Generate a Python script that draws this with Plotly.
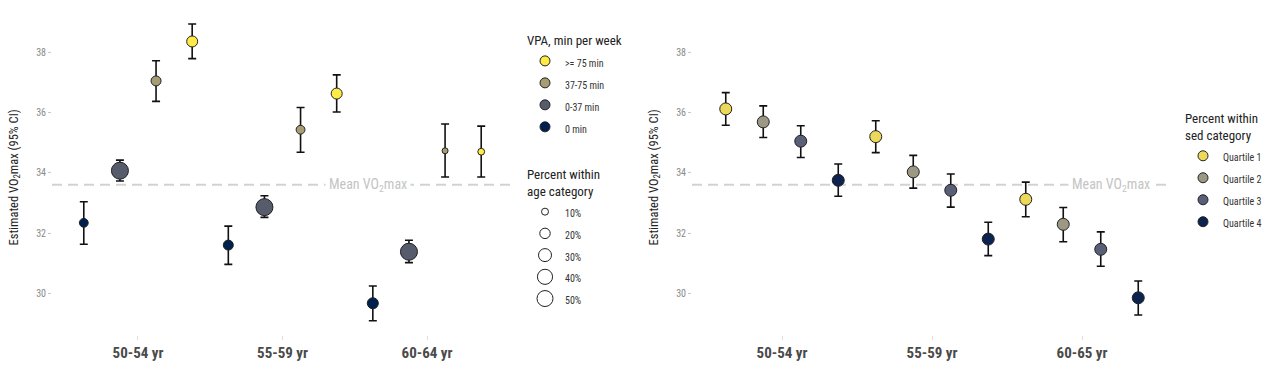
import plotly.graph_objects as go
import math

# ---------------- data ----------------
age_cats_left = ["50-54 yr", "55-59 yr", "60-64 yr"]
age_cats_right = ["50-54 yr", "55-59 yr", "60-65 yr"]

vpa_labels = [">= 75 min", "37-75 min", "0-37 min", "0 min"]
vpa_mean = [
    [38.36, 36.63, 34.70],
    [37.05, 35.43, 34.73],
    [34.07, 32.86, 31.38],
    [32.34, 31.60, 29.67],
]
vpa_low = [
    [37.79, 36.02, 33.86],
    [36.37, 34.68, 33.86],
    [33.73, 32.52, 31.02],
    [31.63, 30.96, 29.09],
]
vpa_high = [
    [38.94, 37.25, 35.55],
    [37.72, 36.17, 35.62],
    [34.42, 33.24, 31.76],
    [33.04, 32.23, 30.24],
]
vpa_pct = [
    [26, 26, 12],
    [22, 18, 10],
    [56, 56, 56],
    [18, 22, 26],
]
size_legend_pct = [10, 20, 30, 40, 50]

sed_labels = ["Quartile 1", "Quartile 2", "Quartile 3", "Quartile 4"]
sed_mean = [
    [36.12, 35.20, 33.12],
    [35.69, 34.03, 32.29],
    [35.05, 33.42, 31.46],
    [33.75, 31.80, 29.85],
]
sed_low = [
    [35.58, 34.67, 32.54],
    [35.17, 33.49, 31.71],
    [34.51, 32.86, 30.90],
    [33.22, 31.25, 29.28],
]
sed_high = [
    [36.66, 35.73, 33.69],
    [36.22, 34.58, 32.85],
    [35.56, 33.96, 32.04],
    [34.29, 32.36, 30.41],
]
mean_vo2max = 33.6
y_ticks = [30, 32, 34, 36, 38]

# ---------------- style ----------------
FONT = "Roboto Condensed, Liberation Sans Narrow, DejaVu Sans Condensed, Roboto, sans-serif"
vpa_colors = ["#FFEA46", "#A69D75", "#575C6D", "#00204D"]
sed_colors = ["#ECD95C", "#9C9884", "#585F76", "#0C2350"]
group_offsets = [-0.375, -0.125, 0.125, 0.375]
left_offsets = list(reversed(group_offsets))  # >=75 is the rightmost


def pct_to_size(p):
    d = math.sqrt(49 + 6 * (p - 10))
    return d - 1


def legend_name(s):
    # smaller visible legend text while keeping row spacing
    return f'<span style="font-size:10px">{s}</span>'


fig = go.Figure()

# left panel traces
for i, lab in enumerate(vpa_labels):
    xs = [j + left_offsets[i] for j in range(len(age_cats_left))]
    fig.add_trace(go.Scatter(
        x=xs, y=vpa_mean[i], mode="markers", name=lab, showlegend=False,
        xaxis="x", yaxis="y",
        marker=dict(color=vpa_colors[i], size=[pct_to_size(p) for p in vpa_pct[i]],
                    line=dict(color="#222222", width=1), opacity=1),
        error_y=dict(type="data", symmetric=False,
                     array=[h - m for h, m in zip(vpa_high[i], vpa_mean[i])],
                     arrayminus=[m - l for m, l in zip(vpa_mean[i], vpa_low[i])],
                     color="#111111", thickness=1.6, width=4),
        hoverinfo="skip",
    ))
    fig.add_trace(go.Scatter(
        x=[None], y=[None], mode="markers", name=legend_name(lab),
        xaxis="x", yaxis="y", legend="legend",
        marker=dict(color=vpa_colors[i], size=10, line=dict(color="#222222", width=1)),
    ))

# size legend (legend-only)
for p in size_legend_pct:
    fig.add_trace(go.Scatter(
        x=[None], y=[None], mode="markers", name=legend_name(f"{p}%"),
        xaxis="x", yaxis="y", legend="legend2",
        marker=dict(color="white", size=pct_to_size(p) + 1, line=dict(color="#222222", width=1)),
    ))

# right panel traces
for i, lab in enumerate(sed_labels):
    xs = [j + group_offsets[i] for j in range(len(age_cats_right))]
    fig.add_trace(go.Scatter(
        x=xs, y=sed_mean[i], mode="markers", name=lab, showlegend=False,
        xaxis="x2", yaxis="y2",
        marker=dict(color=sed_colors[i], size=12, line=dict(color="#222222", width=1)),
        error_y=dict(type="data", symmetric=False,
                     array=[h - m for h, m in zip(sed_high[i], sed_mean[i])],
                     arrayminus=[m - l for m, l in zip(sed_mean[i], sed_low[i])],
                     color="#111111", thickness=1.6, width=4),
        hoverinfo="skip",
    ))
    fig.add_trace(go.Scatter(
        x=[None], y=[None], mode="markers", name=legend_name(lab),
        xaxis="x2", yaxis="y2", legend="legend3",
        marker=dict(color=sed_colors[i], size=10, line=dict(color="#222222", width=1)),
    ))

W, H = 1280, 366
yr = [28.616, 39.072]
ydom = [1 - 335 / H, 1 - 20 / H]

common_y = dict(range=yr, domain=ydom, tickvals=y_ticks, showgrid=False, zeroline=False,
                showline=False, ticks="outside", ticklen=3, tickcolor="#c8c8c8", tickwidth=1,
                tickfont=dict(family=FONT, size=10, color="#8a8a8a"))
common_x = dict(tickvals=[0, 1, 2], showgrid=False, zeroline=False, showline=False,
                ticks="outside", ticklen=4, tickcolor="#dddddd", tickwidth=1,
                tickfont=dict(family=FONT, size=15, color="#4a4a4a", weight="bold"))

fig.update_layout(
    width=W, height=H,
    margin=dict(l=0, r=0, t=0, b=0),
    paper_bgcolor="white", plot_bgcolor="white",
    font=dict(family=FONT, color="#222222"),
    xaxis=dict(domain=[52 / W, 513 / W], range=[-0.595, 2.595], ticktext=age_cats_left,
               anchor="y", **common_x),
    yaxis=dict(anchor="x", **common_y),
    xaxis2=dict(domain=[692 / W, 1172 / W], range=[-0.6, 2.6], ticktext=age_cats_right,
                anchor="y2", **common_x),
    yaxis2=dict(anchor="x2", **common_y),
    legend=dict(x=525 / W, y=1 - 28 / H, xanchor="left", yanchor="top",
                title=dict(text="VPA, min per week", font=dict(family=FONT, size=13, color="#222222")),
                font=dict(family=FONT, size=14.6, color="#333333"), itemsizing="trace",
                bgcolor="rgba(0,0,0,0)", tracegroupgap=0),
    legend2=dict(x=525 / W, y=1 - 162 / H, xanchor="left", yanchor="top",
                 title=dict(text="Percent within<br>age category", font=dict(family=FONT, size=13, color="#222222")),
                 font=dict(family=FONT, size=14.4, color="#333333"), itemsizing="trace",
                 bgcolor="rgba(0,0,0,0)", tracegroupgap=0),
    legend3=dict(x=1183 / W, y=1 - 106 / H, xanchor="left", yanchor="top",
                 title=dict(text="Percent within<br>sed category", font=dict(family=FONT, size=13, color="#222222")),
                 font=dict(family=FONT, size=14.6, color="#333333"), itemsizing="trace",
                 bgcolor="rgba(0,0,0,0)", tracegroupgap=0),
    showlegend=True,
)

# mean lines
for xr, yref in (("x", "y"), ("x2", "y2")):
    fig.add_shape(type="line", xref=f"{xr} domain", yref=yref, x0=0, x1=1,
                  y0=mean_vo2max, y1=mean_vo2max,
                  line=dict(color="#d2d2d2", width=2, dash="10px,6px"), layer="below")

fig.add_annotation(x=1.595, y=mean_vo2max, xref="x", yref="y",
                   text="Mean VO<sub>2</sub>max", showarrow=False, bgcolor="white", borderpad=3,
                   font=dict(family=FONT, size=14, color="#c4c4c4"))
fig.add_annotation(x=2.193, y=mean_vo2max, xref="x2", yref="y2",
                   text="Mean VO<sub>2</sub>max", showarrow=False, bgcolor="white", borderpad=3,
                   font=dict(family=FONT, size=14, color="#c4c4c4"))

# y-axis titles
for xpx in (14, 654):
    fig.add_annotation(x=xpx / W, y=1 - 177.5 / H, xref="paper", yref="paper",
                       xanchor="center", yanchor="middle",
                       text="Estimated VO<sub>2</sub>max (95% CI)", textangle=-90, showarrow=False,
                       font=dict(family=FONT, size=12.5, color="#222222"))

fig.write_html("out.html", config={"displayModeBar": False},
               post_script="document.body.style.margin='0';document.body.style.overflow='hidden';")
